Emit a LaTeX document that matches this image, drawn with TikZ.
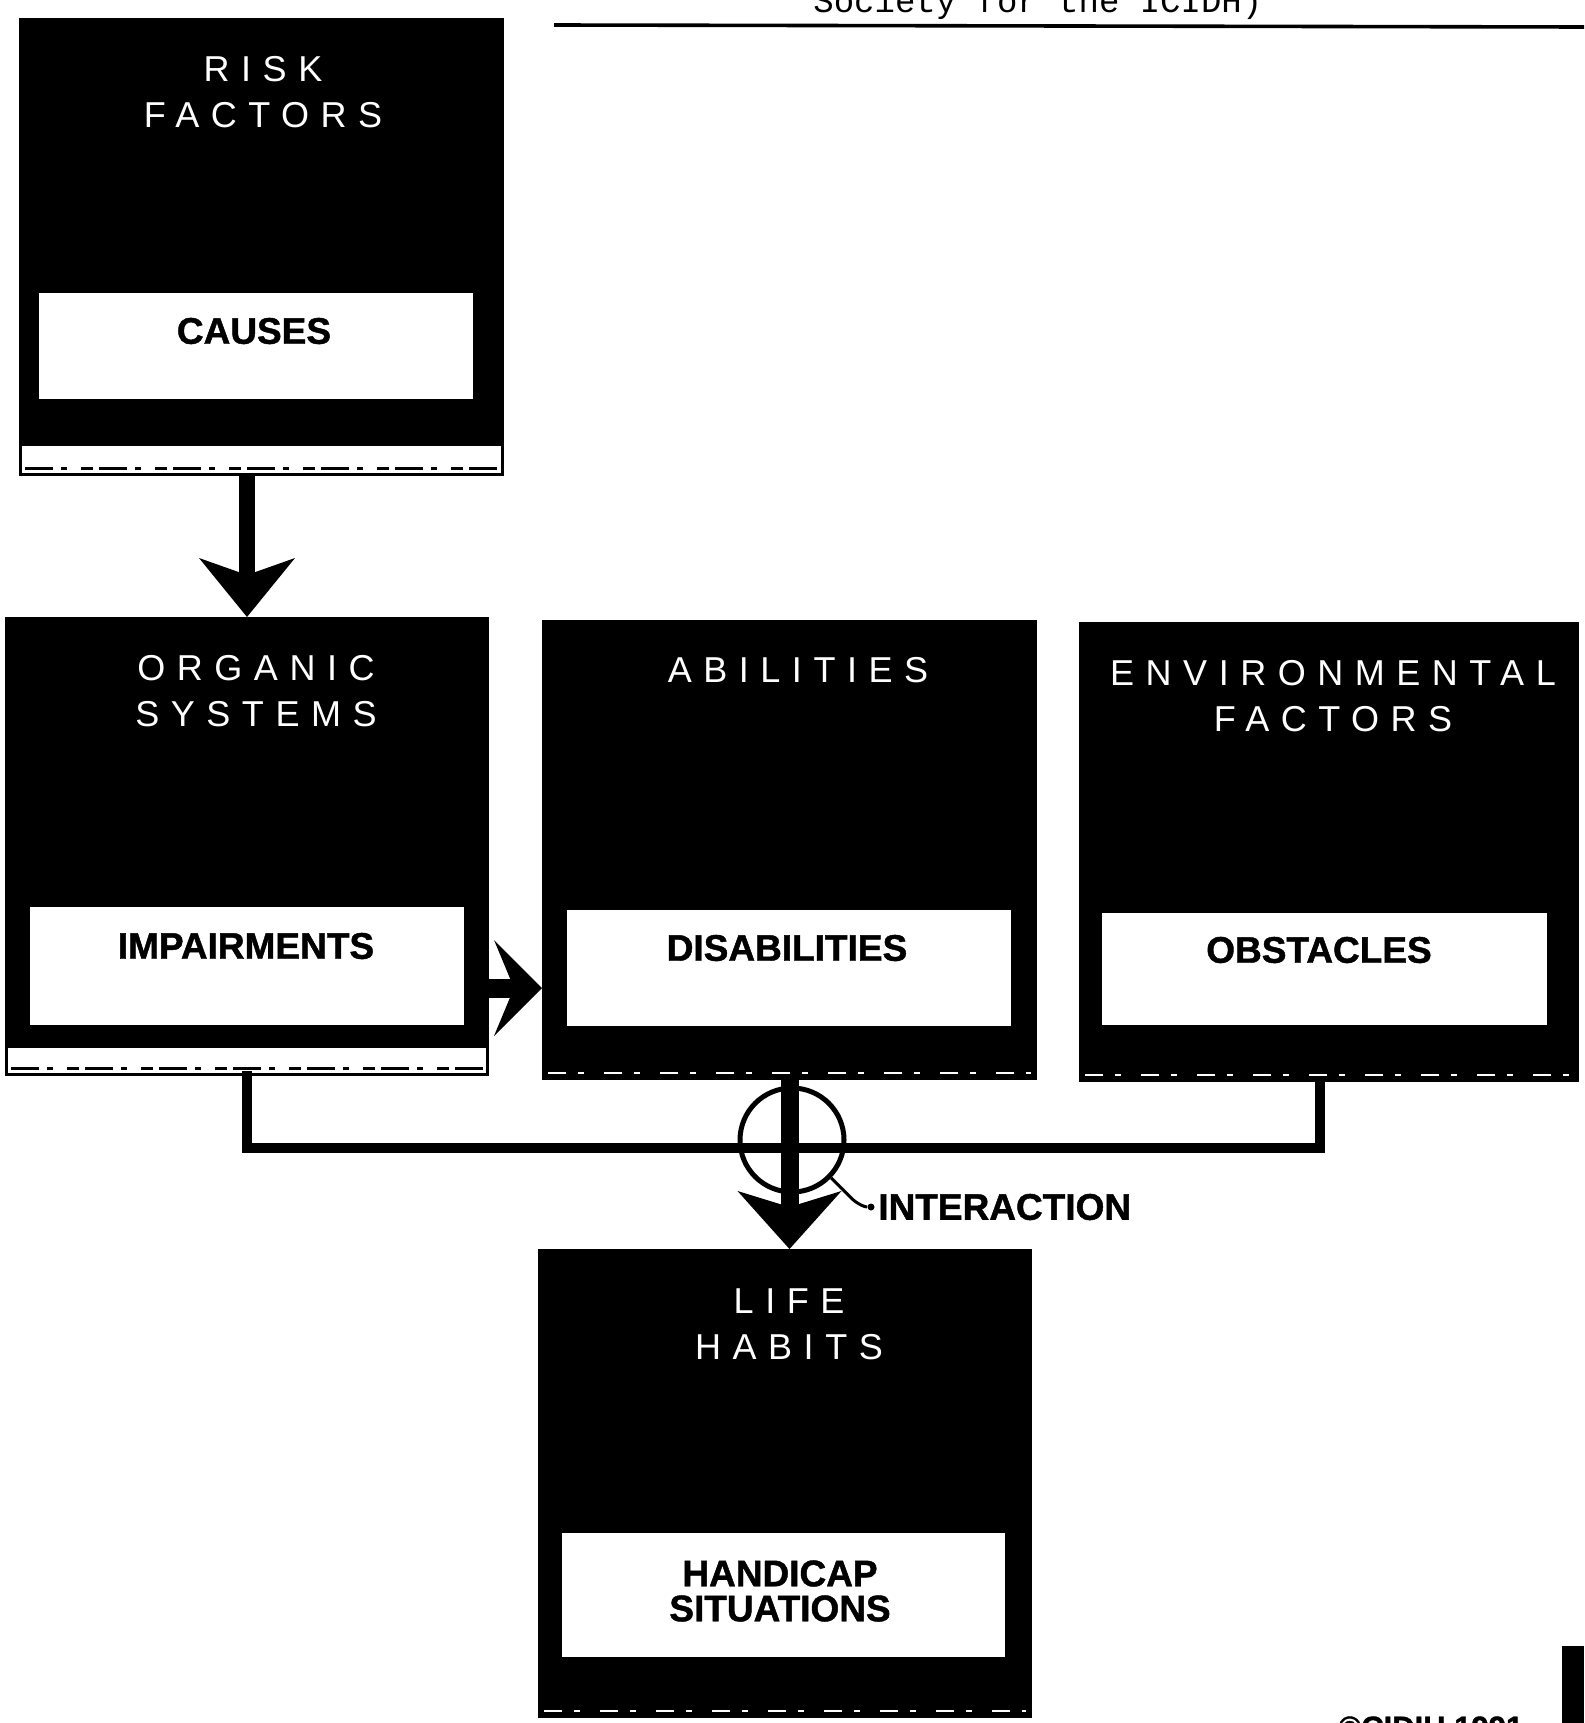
\documentclass[tikz,border=0pt]{standalone}
\usepackage{fontspec}
\setmainfont{Liberation Sans}
\newfontfamily\titlefont[LetterSpace=32]{Liberation Sans}
\newfontfamily\heavyfont[BoldFeatures={FakeBold=1.2}]{Liberation Sans}
\newfontfamily\monofont{Liberation Mono}
\usetikzlibrary{arrows.meta,calc}
\begin{document}
\begin{tikzpicture}[x=0.5pt,y=-0.5pt,
  blackbox/.style={rectangle, fill=black, inner sep=0pt, outer sep=0pt},
  whitebox/.style={rectangle, fill=white, inner sep=0pt, outer sep=0pt},
  titletext/.style={text=white, font=\titlefont\fontsize{18}{23}\selectfont, align=center, inner sep=0pt},
  boldlab/.style={text=black, font=\heavyfont\bfseries\fontsize{18.5}{17.5}\selectfont, align=center, inner sep=0pt},
  band/.style={fill=white},
  speck/.style={black, line width=1.5pt, dash pattern=on 14pt off 4pt on 3pt off 7pt on 6pt off 3pt},
  whitespeck/.style={white, line width=1.2pt, dash pattern=on 9pt off 6pt on 3pt off 10pt},
  link/.style={line width=5pt, line cap=rect},
]
\useasboundingbox (0,0) rectangle (1584,1723);

% ---- big boxes
\node[blackbox, minimum width=242.5pt, minimum height=229pt] (risk) at (261.5,247) {};
\node[blackbox, minimum width=242pt, minimum height=229.5pt] (organic) at (247,846.5) {};
\node[blackbox, minimum width=247.5pt, minimum height=230pt] (abilities) at (789.5,850) {};
\node[blackbox, minimum width=250pt, minimum height=230pt] (env) at (1329,852) {};
\node[blackbox, minimum width=247pt, minimum height=234.5pt] (life) at (785,1483.5) {};

% ---- scan bands at the bottom of the boxes
\fill[band] ([shift={(1.5pt,1.5pt)}]risk.south west) rectangle ([shift={(-1.5pt,15pt)}]risk.south east);
\draw[speck] ([shift={(3pt,4pt)}]risk.south west) -- ([shift={(-3pt,4pt)}]risk.south east);
\fill[band] ([shift={(1.5pt,1.5pt)}]organic.south west) rectangle ([shift={(-1.5pt,14pt)}]organic.south east);
\draw[speck] ([shift={(3pt,4pt)}]organic.south west) -- ([shift={(-3pt,4pt)}]organic.south east);
\draw[whitespeck] ([shift={(3pt,3.5pt)}]abilities.south west) -- ([shift={(-3pt,3.5pt)}]abilities.south east);
\draw[whitespeck] ([shift={(3pt,3.5pt)}]env.south west) -- ([shift={(-3pt,3.5pt)}]env.south east);
\draw[whitespeck] ([shift={(3pt,3.5pt)}]life.south west) -- ([shift={(-3pt,3.5pt)}]life.south east);

% ---- inner white boxes
\node[whitebox, minimum width=217pt, minimum height=53pt] (causes) at (256,346) {};
\node[whitebox, minimum width=217pt, minimum height=59pt] (impair) at (247,966) {};
\node[whitebox, minimum width=222pt, minimum height=58pt] (disab) at (789,968) {};
\node[whitebox, minimum width=222.5pt, minimum height=56pt] (obst) at (1324.5,969) {};
\node[whitebox, minimum width=221.5pt, minimum height=62pt] (handi) at (783.5,1595) {};

% ---- titles
\node[titletext] (tRisk) at (263,92.5) {RISK\\FACTORS};
\node[titletext] (tOrg) at (256,691) {ORGANIC\\SYSTEMS};
\node[titletext] (tAbil) at (798,670) {ABILITIES};
\node[titletext] (tEnv) at (1333,696.5) {ENVIRONMENTAL\\FACTORS};
\node[titletext] (tLife) at (789,1324.5) {LIFE\\HABITS};

% ---- bold labels
\node[boldlab] (lCauses) at (254,331) {CAUSES};
\node[boldlab] (lImp) at (246,946) {IMPAIRMENTS};
\node[boldlab] (lDis) at (787,948) {DISABILITIES};
\node[boldlab] (lObs) at (1319,950) {OBSTACLES};
\node[boldlab] (lHand) at (780,1591) {HANDICAP\\SITUATIONS};

% ---- interaction links
\coordinate (hl) at (0,1148);
\coordinate (ra) at (0,988);
\draw[link] (organic.south) -- (organic.south |- hl) -| ([xshift=-4.5pt]env.south);
\node[circle, draw=black, line width=2.5pt, minimum size=52pt, inner sep=0pt] (inter) at (792,1140) {};

% ---- arrows
\draw[line width=8pt, -{Stealth[length=29.5pt, width=48pt, inset=8.5pt, line width=0pt]}]
  (risk.south -| organic.north) -- (organic.north);
\draw[line width=9.5pt, -{Stealth[length=24pt, width=48pt, inset=10pt, line width=0pt]}]
  (organic.east |- ra) -- (abilities.west |- ra);
\draw[line width=9pt, -{Stealth[length=29pt, width=52pt, inset=8pt, line width=0pt]}]
  (abilities.south) -- (abilities.south |- life.north);

% ---- interaction label
\node[circle, fill=black, inner sep=0pt, minimum size=3.5pt] (dot) at (871,1207) {};
\node[anchor=west, inner sep=0pt, font=\heavyfont\bfseries\fontsize{18.5}{18}\selectfont] (interlab) at ([xshift=1.5pt]dot.east) {INTERACTION};
\draw[line width=1.5pt] (inter.-44) -- ++(22,22) .. controls +(6,5) and +(-6,0) .. (dot);

% ---- header and footer fragments
\draw[line width=1.8pt] (554,25) -- (1584,27);
\node[anchor=base west, inner sep=0pt, font=\monofont\fontsize{17}{17}\selectfont] (hdr) at (813,13) {Society for the ICIDH)};
\node[anchor=north west, inner sep=0pt, font=\heavyfont\bfseries\fontsize{15.5}{15.5}\selectfont] (ftr) at (1338,1716) {©CIDIH 1991};
\fill[black] (1562,1646) rectangle (1584,1723);
\end{tikzpicture}
\end{document}
